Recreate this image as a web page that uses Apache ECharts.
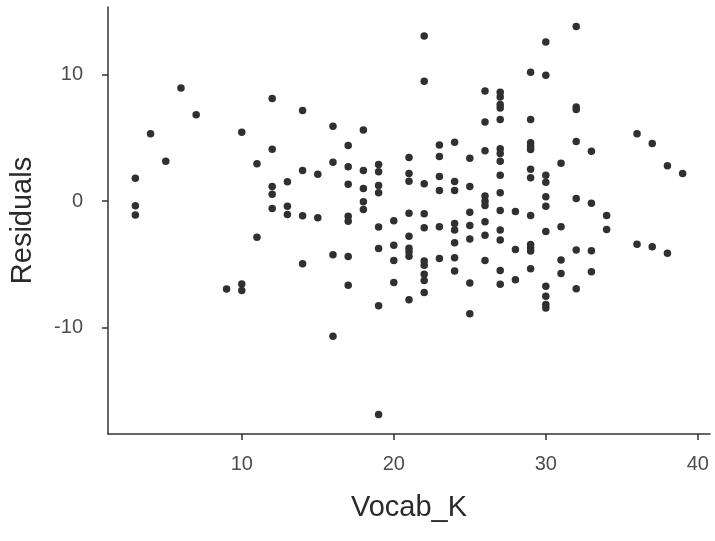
<!DOCTYPE html>
<html>
<head>
<meta charset="utf-8">
<script src="https://cdn.jsdelivr.net/npm/echarts@6/dist/echarts.min.js"></script>
<style>html,body{margin:0;padding:0;background:#fff}#chart{width:715px;height:541px}</style>
</head>
<body>
<div id="chart"></div>
<script>
// Vocab_K values (x) and residuals (y), paired by index
const vocabK = [
  3,3,3, 4, 5, 6, 7, 9, 10,10,10, 11,11, 12,12,12,12,12, 13,13,13, 14,14,14,14, 15,15,
  16,16,16,16, 17,17,17,17,17,17,17, 18,18,18,18,18, 19,19,19,19,19,19,19,19,
  20,20,20,20, 21,21,21,21,21,21,21,21,21, 22,22,22,22,22,22,22,22,22,22,
  23,23,23,23,23,23, 24,24,24,24,24,24,24,24, 25,25,25,25,25,25,25,
  26,26,26,26,26,26,26,26,26, 27,27,27,27,27,27,27,27,27,27,27,27,27,27,27,
  28,28,28, 29,29,29,29,29,29,29,29,29,29,29,29, 30,30,30,30,30,30,30,30,30,30,30,
  31,31,31,31, 32,32,32,32,32,32,32, 33,33,33,33, 34,34, 36,36, 37,37, 38,38, 39
];
const residuals = [
  1.82,-0.36,-1.10, 5.33, 3.16, 8.96, 6.83, -6.96, 5.45,-6.56,-7.06, 2.96,-2.85,
  8.12,4.11,1.16,0.55,-0.58, 1.53,-0.40,-1.05, 7.17,2.43,-1.15,-4.95, 2.13,-1.31,
  5.93,3.08,-4.24,-10.70, 4.40,2.72,1.34,-1.19,-1.58,-4.37,-6.66, 5.64,2.43,1.00,-0.05,-0.66,
  2.90,2.32,1.24,0.66,-2.05,-3.74,-8.27,-16.89,
  -1.55,-3.48,-4.69,-6.43, 3.45,2.19,1.58,-0.95,-2.77,-3.72,-4.00,-4.35,-7.80,
  13.07,9.49,1.37,-1.00,-2.10,-4.74,-5.08,-5.79,-6.27,-7.22,
  4.45,3.53,1.95,0.85,-2.02,-4.53, 4.66,1.56,0.85,-1.76,-2.29,-3.29,-4.47,-5.53,
  3.40,1.16,-0.87,-1.92,-3.00,-6.48,-8.90,
  8.72,6.27,3.98,0.40,0.00,-0.34,-1.63,-2.69,-4.69,
  8.62,8.25,7.65,7.38,6.46,4.14,3.77,3.16,2.06,0.66,-0.74,-2.29,-3.08,-5.48,-6.58,
  -0.81,-3.82,-6.21, 10.20,6.46,4.62,4.35,4.09,2.53,1.85,-1.13,-3.42,-3.69,-3.95,-5.35,
  12.60,9.96,2.06,1.50,0.35,-0.40,-2.40,-6.74,-7.53,-8.17,-8.46,
  3.00,-2.02,-4.66,-5.72, 13.83,7.46,7.25,4.72,0.21,-3.87,-6.93,
  3.95,-0.16,-3.92,-5.58, -1.13,-2.24, 5.33,-3.40, 4.56,-3.60, 2.80,-4.13, 2.19
];
const xTicks = [10, 20, 30, 40];
const yTicks = [-10, 0, 10];

const points = vocabK.map((x, i) => [x, residuals[i]]);
const xMin = Math.min(...vocabK), xMax = Math.max(...vocabK);
const yMin = Math.min(...residuals), yMax = Math.max(...residuals);
const xPad = (xMax - xMin) * 0.05, yPad = (yMax - yMin) * 0.05;

const font = '"Liberation Sans", Helvetica, Arial, sans-serif';
const chart = echarts.init(document.getElementById('chart'), null, {renderer: 'canvas'});
chart.setOption({
  animation: false,
  backgroundColor: '#ffffff',
  grid: {left: 107, right: 5, top: 7, bottom: 107, containLabel: false},
  xAxis: {
    type: 'value', min: xMin - xPad, max: xMax + xPad,
    name: 'Vocab_K', nameLocation: 'middle', nameGap: 59,
    nameTextStyle: {fontFamily: font, fontSize: 29, color: '#2b2b2b'},
    axisLine: {show: true, onZero: false, lineStyle: {color: '#333333', width: 1.5}},
    axisTick: {show: true, customValues: xTicks, length: 6, lineStyle: {color: '#333333', width: 1.5}},
    axisLabel: {customValues: xTicks, margin: 20, fontFamily: font, fontSize: 20, color: '#4d4d4d'},
    splitLine: {show: false}
  },
  yAxis: {
    type: 'value', min: yMin - yPad, max: yMax + yPad,
    name: 'Residuals', nameLocation: 'middle', nameGap: 71, nameRotate: 90,
    nameTextStyle: {fontFamily: font, fontSize: 29, color: '#2b2b2b'},
    axisLine: {show: true, onZero: false, lineStyle: {color: '#333333', width: 1.5}},
    axisTick: {show: true, customValues: yTicks, length: 6, lineStyle: {color: '#333333', width: 1.5}},
    axisLabel: {customValues: yTicks, margin: 25, fontFamily: font, fontSize: 20, color: '#4d4d4d'},
    splitLine: {show: false}
  },
  series: [{
    type: 'scatter', data: points, symbol: 'circle', symbolSize: 7.5,
    itemStyle: {color: '#303030', opacity: 1}
  }]
});
</script>
</body>
</html>
